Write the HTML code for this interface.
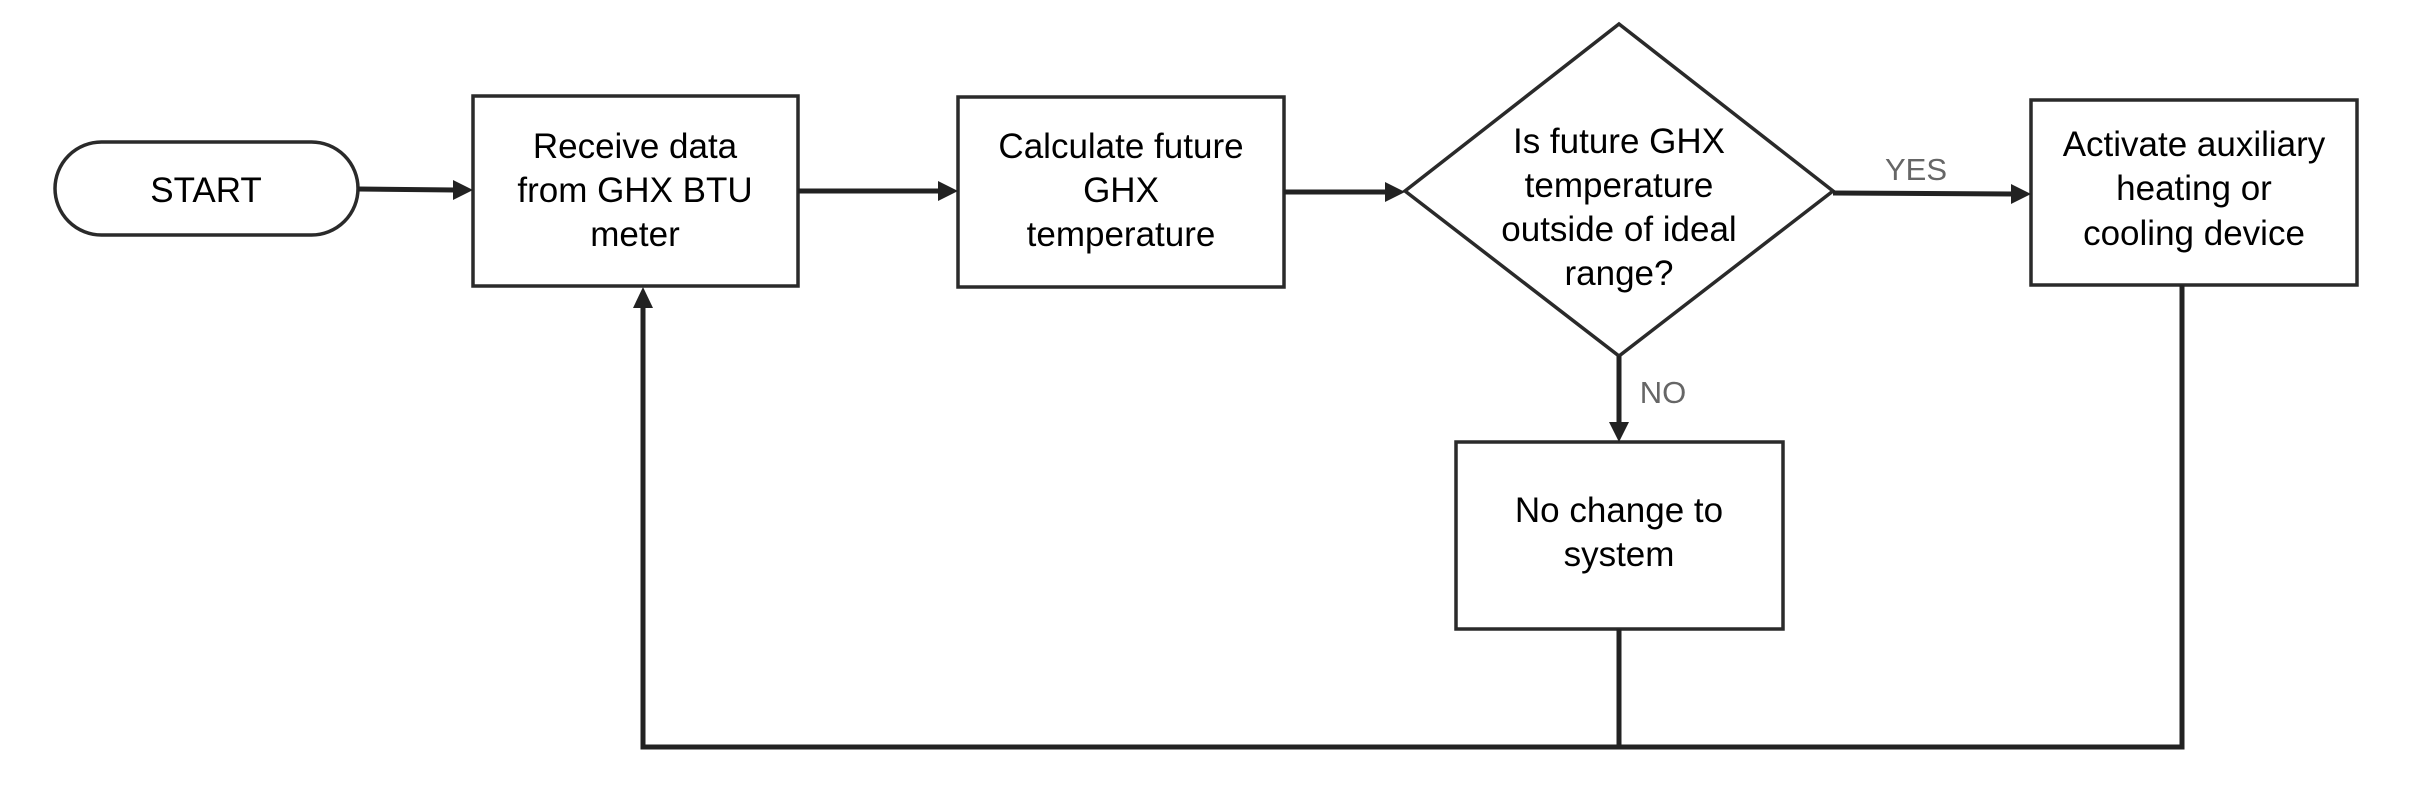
<!DOCTYPE html>
<html><head><meta charset="utf-8"><style>
html,body{margin:0;padding:0;background:#fff;}
svg{display:block;}
text{font-family:"Liberation Sans",Arial,sans-serif;font-size:35px;fill:#000;text-anchor:middle;}
.lbl{fill:#666;font-size:31px;}
</style></head><body>
<svg width="2422" height="792" viewBox="0 0 2422 792" xmlns="http://www.w3.org/2000/svg">
<defs>
<marker id="ah" markerWidth="8" markerHeight="8" refX="7" refY="4" orient="auto" markerUnits="userSpaceOnUse" viewBox="0 0 8 8">
</marker>
</defs>
<g fill="none" stroke="#2a2a2a" stroke-width="3.5">
<rect x="55" y="142" width="303" height="93" rx="46.5" ry="46.5"/>
<rect x="473" y="96" width="325" height="190"/>
<rect x="958" y="97" width="326" height="190"/>
<polygon points="1619,24 1833,191 1619,356 1405,191"/>
<rect x="2031" y="100" width="326" height="185"/>
<rect x="1456" y="442" width="327" height="187"/>
</g>
<g fill="none" stroke="#222" stroke-width="5">
<line x1="358" y1="189" x2="455" y2="190"/>
<line x1="798" y1="191" x2="940" y2="191"/>
<line x1="1284" y1="192" x2="1387" y2="192"/>
<line x1="1833" y1="193" x2="2013" y2="194"/>
<line x1="1619" y1="356" x2="1619" y2="424"/>
<polyline points="1619,629 1619,747"/>
<polyline points="2182,285 2182,747 643,747 643,306"/>
</g>
<g fill="#222">
<polygon points="473,190 453,180 453,200"/>
<polygon points="958,191 938,181 938,201"/>
<polygon points="1405,192 1385,182 1385,202"/>
<polygon points="2031,194 2011,184 2011,204"/>
<polygon points="1619,442 1609,422 1629,422"/>
<polygon points="643,287 633,308 653,308"/>
</g>
<text x="206" y="202">START</text>
<text x="635" y="158">Receive data</text>
<text x="635" y="202">from GHX BTU</text>
<text x="635" y="246">meter</text>
<text x="1121" y="158">Calculate future</text>
<text x="1121" y="202">GHX</text>
<text x="1121" y="246">temperature</text>
<text x="1619" y="153">Is future GHX</text>
<text x="1619" y="197">temperature</text>
<text x="1619" y="241">outside of ideal</text>
<text x="1619" y="285">range?</text>
<text x="2194" y="156">Activate auxiliary</text>
<text x="2194" y="200">heating or</text>
<text x="2194" y="245">cooling device</text>
<text x="1619" y="522">No change to</text>
<text x="1619" y="566">system</text>
<text class="lbl" x="1916" y="180">YES</text>
<text class="lbl" x="1663" y="403">NO</text>
</svg>
</body></html>
